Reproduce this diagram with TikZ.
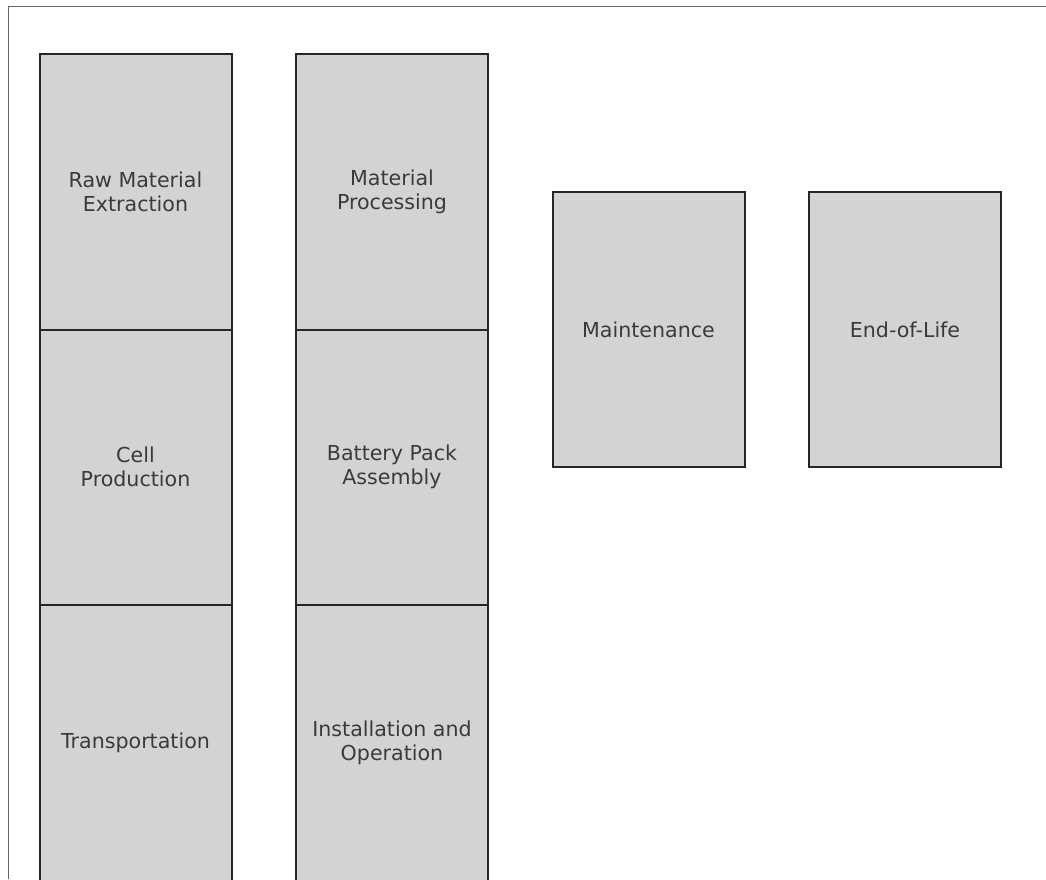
\documentclass[tikz,border=0pt]{standalone}
\usepackage{fontspec}
\setmainfont{DejaVu Sans}
\usetikzlibrary{positioning}
\definecolor{boxgray}{HTML}{D3D3D3}
\definecolor{textgray}{HTML}{3A3A3A}

\begin{document}
\begin{tikzpicture}[x=1pt, y=-1pt,
    stage/.style={rectangle, draw=black!85, line width=2pt, fill=boxgray,
      minimum width=192pt, minimum height=275.5pt, inner sep=4pt, outer sep=0pt,
      text=textgray, align=center,
      font=\fontsize{20.6pt}{24pt}\selectfont},
    frame/.style={draw=black!60, line width=1pt},
    node distance=0pt and 64.5pt]

  \useasboundingbox (0,0) rectangle (1046,879);
  \clip (0,0) rectangle (1046,879);
  \draw[frame] (8,879) -- (8,6) -- (1046,6);

  \node[stage, anchor=north west] (raw) at (39.5,54) {Raw Material\\Extraction};
  \node[stage, below=of raw] (cell) {Cell\\Production};
  \node[stage, below=of cell] (tran) {Transportation};

  \node[stage, right=of raw] (proc) {Material\\Processing};
  \node[stage, below=of proc] (pack) {Battery Pack\\Assembly};
  \node[stage, below=of pack] (inst) {Installation and\\Operation};

  \node[stage, right=64.5pt of proc.south east, anchor=west] (main) {Maintenance};
  \node[stage, right=of main] (eol) {End-of-Life};

\end{tikzpicture}
\end{document}
